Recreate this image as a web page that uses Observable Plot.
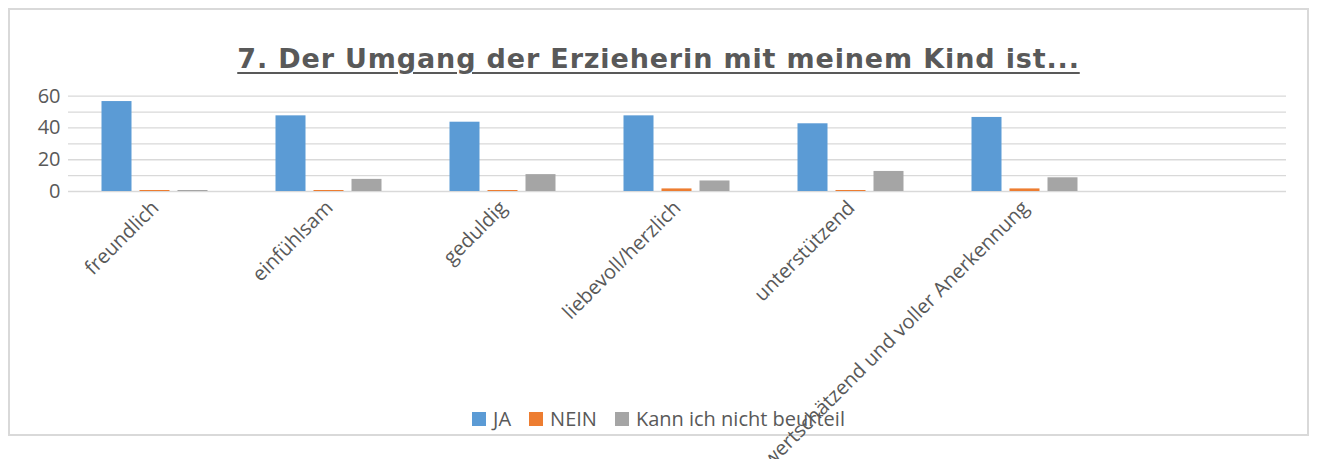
<!DOCTYPE html>
<html>
<head>
<meta charset="utf-8">
<script src="https://cdn.jsdelivr.net/npm/d3@7"></script>
<script src="https://cdn.jsdelivr.net/npm/@observablehq/plot@0.6"></script>
<style>
  html, body { margin: 0; padding: 0; background: #fff; }
  #wrap { position: relative; width: 1317px; height: 459px; overflow: hidden; font-family: "Open Sans", sans-serif; color: #595959; }
  #frame { position: absolute; left: 8px; top: 8px; width: 1301px; height: 428px; border: 2px solid #d9d9d9; box-sizing: border-box; }
  #title { position: absolute; left: 0; width: 1317px; top: 43px; text-align: center; font-family: "DejaVu Sans", sans-serif; font-weight: bold; font-size: 27px; line-height: 32px; color: #595959; text-decoration: underline; text-underline-offset: 4px; text-decoration-thickness: 2px; letter-spacing: 0.85px; }
  #chart { position: absolute; left: 0; top: 80px; }
  #legend { position: absolute; left: 0; width: 1317px; top: 406px; display: flex; justify-content: center; gap: 18px; font-size: 20px; line-height: 26px; color: #595959; z-index: 2; }
  .item { display: flex; align-items: center; gap: 7px; }
  .sw { width: 14px; height: 14px; display: inline-block; }
</style>
</head>
<body>
<div id="wrap">
  <div id="frame"></div>
  <div id="title">7. Der Umgang der Erzieherin mit meinem Kind ist...</div>
  <div id="chart"></div>
  <div id="legend"></div>
</div>
<script>
const categories = ["freundlich", "einfühlsam", "geduldig", "liebevoll/herzlich", "unterstützend", "wertschätzend und voller Anerkennung", " "];
const series = ["JA", "NEIN", "Kann ich nicht beurteil"];
const colors = ["#5b9bd5", "#ed7d31", "#a5a5a5"];
const valuesJA = [56, 47, 43, 47, 42, 46, NaN];
const valuesNEIN = [0, 0, 0, 1, 0, 1, NaN];
const valuesKann = [0, 7, 10, 6, 12, 8, NaN];
const yTicks = [0, 20, 40, 60];
const yGrid = [0, 10, 20, 30, 40, 50, 60];

const seriesValues = [valuesJA, valuesNEIN, valuesKann];
const data = [];
categories.forEach((c, i) => {
  series.forEach((s, j) => data.push({category: c, series: s, value: seriesValues[j][i]}));
});

const chart = Plot.plot({
  width: 1317,
  height: 379,
  marginTop: 15.7,
  marginBottom: 268,
  marginLeft: 67.5,
  marginRight: 31,
  style: {fontFamily: "Open Sans, sans-serif", fontSize: "20px", color: "#595959", background: "transparent", overflow: "visible"},
  fx: {domain: categories, padding: 0, label: null},
  x: {domain: series, paddingInner: 0.2, paddingOuter: 0.86, axis: null},
  y: {domain: [0, 60], label: null},
  color: {domain: series, range: colors},
  marks: [
    Plot.ruleY(yGrid, {stroke: "#d9d9d9", strokeWidth: 1.3}),
    Plot.barY(data, {fx: "category", x: "series", y: "value", fill: "series", insetTop: -1, filter: d => !isNaN(d.value)}),
    Plot.ruleY(data, {fx: "category", y: 0, strokeOpacity: 0}),
    Plot.axisY({ticks: yTicks, tickSize: 0, tickPadding: 8, fontSize: 20, fill: "#595959", label: null}),
    Plot.axisFx({anchor: "bottom", tickRotate: -45, tickSize: 0, tickPadding: 13, fontSize: 20, fill: "#595959", label: null})
  ]
});
document.getElementById("chart").appendChild(chart);

const legend = document.getElementById("legend");
series.forEach((s, j) => {
  const it = document.createElement("div");
  it.className = "item";
  const sw = document.createElement("span");
  sw.className = "sw";
  sw.style.background = colors[j];
  const t = document.createElement("span");
  t.textContent = s;
  it.appendChild(sw);
  it.appendChild(t);
  legend.appendChild(it);
});
</script>
</body>
</html>
